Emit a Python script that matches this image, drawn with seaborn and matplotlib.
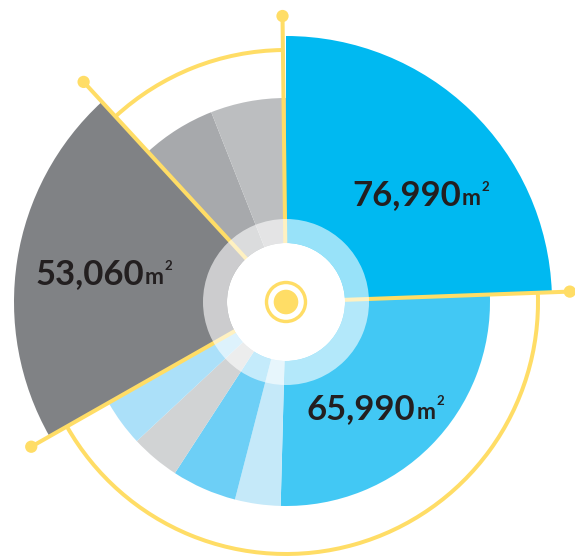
import numpy as np
import matplotlib
matplotlib.use("Agg")
import matplotlib.pyplot as plt
import seaborn as sns

# ---------------- data ----------------
# wedge start angles (degrees, clockwise from 12 o'clock) and radii (px units)
segment_starts_deg = [0.0, 87.9, 181.5, 194.5, 213.0, 227.0, 240.4, 317.4, 338.5]
segment_radii = [266, 204, 204, 204, 204, 204, 272, 204, 204]
segment_colors = ["#00B9F1", "#42C8F4", "#C5E9F9", "#6DCFF6", "#D1D3D4",
                  "#ABE0F9", "#808285", "#A7A9AC", "#BCBEC0"]

# yellow pointer lines with end dots
pointer_angles_deg = [359.3, 87.9, 240.4, 317.4]
pointer_radii = [286, 284, 293, 299]

# yellow arcs (start, end in degrees)
arc_starts_deg = [317.4, 87.9]
arc_ends_deg = [359.3, 240.4]
arc_radius = 252

# labels
label_values = ["76,990", "65,990", "53,060"]
label_unit = "m"
label_power = "2"

YELLOW = "#FFDD66"
TEXT = "#231F20"

# ---------------- figure ----------------
sns.set_theme(style="white")
plt.rcParams["font.family"] = ["Lato", "DejaVu Sans"]

W, H, DPI = 575, 558, 100
fig = plt.figure(figsize=(W / DPI, H / DPI), dpi=DPI)
fig.patch.set_facecolor("white")

cx, cy = 286, 302          # centre in pixels (from top-left)
RMAX = 310
ax = fig.add_axes([(cx - RMAX) / W, (H - cy - RMAX) / H, 2 * RMAX / W, 2 * RMAX / H],
                  projection="polar")
ax.set_theta_zero_location("N")
ax.set_theta_direction(-1)
ax.set_ylim(0, RMAX)
ax.set_axis_off()

starts = np.array(segment_starts_deg)
ends = np.append(starts[1:], 360.0)
widths = ends - starts
centers = np.radians(starts + widths / 2)

ax.bar(centers, segment_radii, width=np.radians(widths), bottom=0,
       color=segment_colors, edgecolor="none", linewidth=0, zorder=1)

# arcs
a0 = np.array(arc_starts_deg)
a1 = np.array(arc_ends_deg)
ax.bar(np.radians((a0 + a1) / 2), 4.0, width=np.radians(a1 - a0),
       bottom=arc_radius - 2.0, color=YELLOW, edgecolor="none", linewidth=0, zorder=2)

# pointer lines + dots
for ang, r in zip(pointer_angles_deg, pointer_radii):
    th = np.radians(ang)
    ax.plot([th, th], [0, r], color=YELLOW, lw=2.9, solid_capstyle="butt", zorder=2)
ax.scatter(np.radians(pointer_angles_deg), pointer_radii, s=78, color=YELLOW,
           edgecolors="none", zorder=3, clip_on=False)

# translucent ring, white hub, centre target
full = 2 * np.pi
ax.bar(0, 24, width=full, bottom=59, color="white", alpha=0.6,
       edgecolor="none", linewidth=0, zorder=4)
ax.bar(0, 59, width=full, bottom=0, color="white", edgecolor="none",
       linewidth=0, zorder=5)
ax.bar(0, 3.4, width=full, bottom=17.8, color=YELLOW, edgecolor="none",
       linewidth=0, zorder=6)
ax.bar(0, 12.3, width=full, bottom=0, color=YELLOW, edgecolor="none",
       linewidth=0, zorder=6)

# labels: (digits left x, baseline y)
label_layout = [(352.0, 205.0), (307.0, 419.3), (35.5, 284.0)]


def fx(x):
    return x / W


def fy(y):
    return 1 - y / H


renderer = fig.canvas.get_renderer()
for val, (xl, yb) in zip(label_values, label_layout):
    t = fig.text(fx(xl), fy(yb), val, ha="left", va="baseline", fontsize=25,
                 fontweight="bold", color=TEXT)
    bb = t.get_window_extent(renderer)
    x_right = bb.x1 + 1.0                      # display px, origin bottom-left
    top = bb.y1
    tu = fig.text(x_right / W, fy(yb), label_unit, ha="left", va="baseline",
                  fontsize=16.5, fontweight="bold", color=TEXT)
    bu = tu.get_window_extent(renderer)
    fig.text((bu.x1 + 0.5) / W, (top - 2.0) / H, label_power, ha="left", va="top",
             fontsize=9.5, fontweight="bold", color=TEXT)

fig.savefig("out.png", dpi=DPI, facecolor="white")
